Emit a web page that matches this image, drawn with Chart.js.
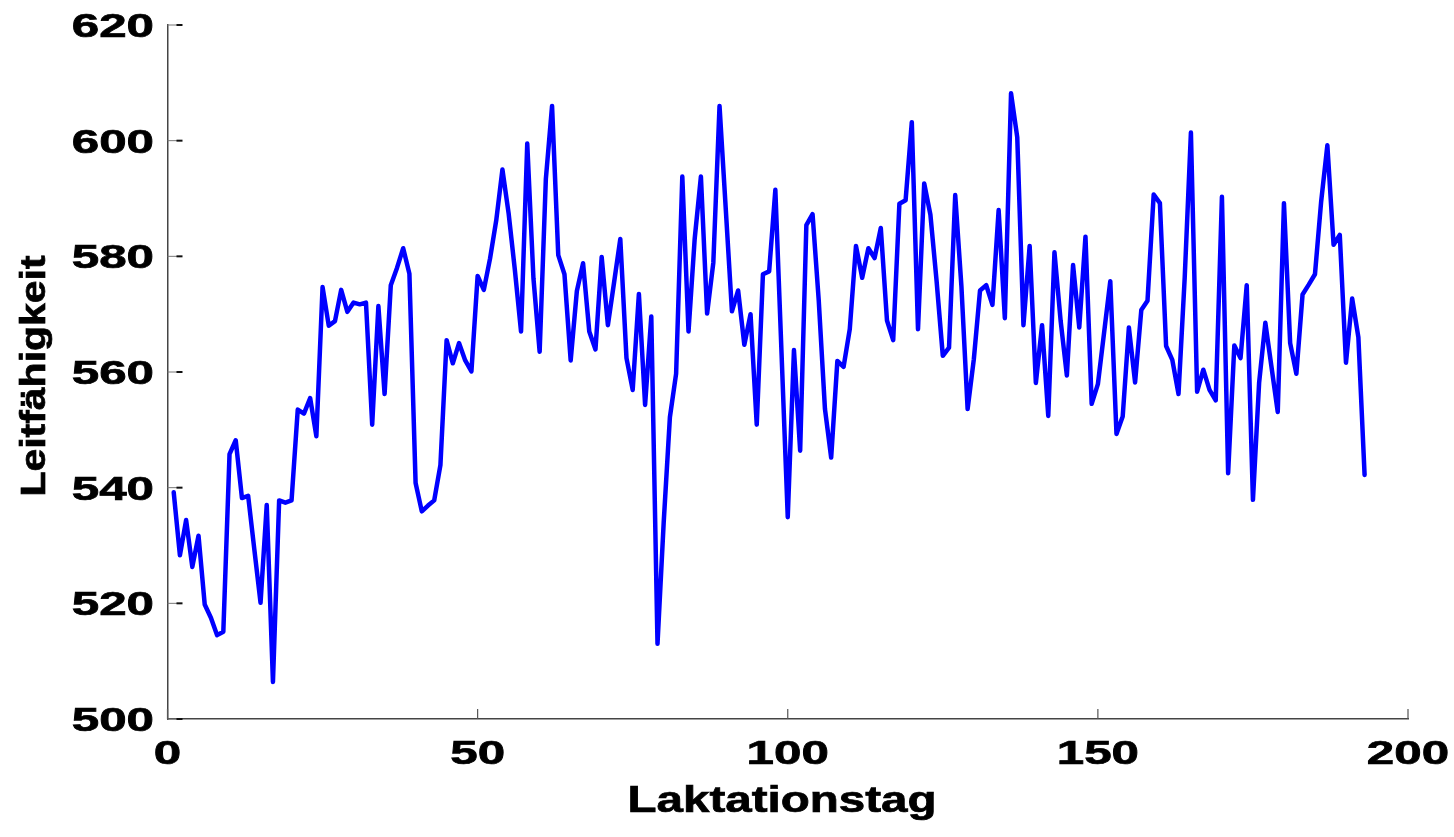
<!DOCTYPE html>
<html lang="de">
<head>
  <meta charset="UTF-8">
  <title>Leitfähigkeit</title>
  <script src="https://cdn.jsdelivr.net/npm/chart.js"></script>
  <style>
    body { margin: 0; background: #fff; }
  </style>
</head>
<body>
  <canvas id="chart" width="1454" height="837"></canvas>

  <script>
    const xTitle = 'Laktationstag';
    const yTitle = 'Leitfähigkeit';
    const xTicks = [0, 50, 100, 150, 200];
    const yTicks = [500, 520, 540, 560, 580, 600, 620];

    // Laktationstag 1..193
    const days = Array.from({ length: 193 }, (_, i) => i + 1);

    const conductivity = [
      539.2, 528.3, 534.4, 526.3, 531.7, 519.8, 517.5, 514.5, 515.1, 545.8,
      548.2, 538.2, 538.6, 529.3, 520.1, 537.0, 506.4, 537.8, 537.4, 537.8,
      553.5, 552.8, 555.5, 548.9, 574.7, 568.0, 568.8, 574.2, 570.4, 572.0,
      571.7, 572.0, 550.9, 571.4, 556.2, 575.0, 578.0, 581.4, 577.0, 540.8,
      535.9, 536.9, 537.8, 543.9, 565.5, 561.5, 565.0, 562.0, 560.1, 576.6,
      574.2, 579.6, 586.2, 595.0, 587.4, 577.7, 567.0, 599.5, 576.2, 563.5,
      593.4, 606.0, 580.2, 576.9, 562.0, 574.0, 578.8, 567.0, 563.9, 579.9,
      568.1, 575.5, 583.0, 562.4, 556.9, 573.5, 554.3, 569.6, 513.0, 534.0,
      552.2, 559.7, 593.8, 567.0, 583.1, 593.8, 570.1, 578.9, 606.0, 588.3,
      570.5, 574.1, 564.7, 570.0, 550.9, 576.9, 577.4, 591.5, 563.2, 534.9,
      563.8, 546.4, 585.4, 587.3, 572.3, 553.6, 545.2, 561.9, 560.9, 567.4,
      581.8, 576.3, 581.4, 579.7, 584.9, 568.9, 565.5, 589.1, 589.7, 603.2,
      567.4, 592.6, 587.2, 575.7, 562.8, 564.2, 590.6, 574.8, 553.6, 562.2,
      574.1, 575.0, 571.6, 588.0, 569.3, 608.2, 600.6, 568.1, 581.8, 558.1,
      568.1, 552.4, 580.7, 568.8, 559.4, 578.5, 567.7, 583.4, 554.5, 557.9,
      566.8, 575.7, 549.3, 552.3, 567.7, 558.2, 570.7, 572.3, 590.7, 589.2,
      564.5, 562.1, 556.2, 576.3, 601.4, 556.6, 560.4, 556.9, 555.1, 590.3,
      542.5, 564.6, 562.4, 575.0, 537.9, 558.2, 568.5, 560.8, 553.1, 589.2,
      565.0, 559.7, 573.4, 575.1, 576.9, 589.5, 599.2, 582.0, 583.7, 561.6,
      572.7, 566.0, 542.2
    ];

    const FONT = '"Liberation Sans", Arial, sans-serif';

    // matlab-like text is stretched wide, so draw it by hand
    function wideText(ctx, text, x, y, sx, align, angle) {
      ctx.save();
      ctx.translate(x, y);
      if (angle) ctx.rotate(angle);
      ctx.scale(sx, 1);
      ctx.textAlign = align;
      ctx.textBaseline = 'alphabetic';
      ctx.fillText(text, 0, 0);
      ctx.strokeText(text, 0, 0);
      ctx.restore();
    }

    const matlabAxes = {
      id: 'matlabAxes',
      afterDraw(chart) {
        const { ctx, chartArea: area, scales: { x, y } } = chart;
        ctx.save();

        // inward ticks
        yTicks.forEach(v => {
          const py = y.getPixelForValue(v);
          ctx.strokeStyle = '#777';
          ctx.lineWidth = 1;
          ctx.beginPath(); ctx.moveTo(area.left, py); ctx.lineTo(area.left + 10, py); ctx.stroke();
          ctx.strokeStyle = '#111';
          ctx.lineWidth = 2;
          ctx.beginPath(); ctx.moveTo(area.left + 9, py); ctx.lineTo(area.left + 15, py); ctx.stroke();
        });
        xTicks.forEach(v => {
          const px = x.getPixelForValue(v);
          ctx.strokeStyle = '#555';
          ctx.lineWidth = 1.2;
          ctx.beginPath(); ctx.moveTo(px, area.bottom); ctx.lineTo(px, area.bottom - 10); ctx.stroke();
        });

        ctx.fillStyle = '#000';
        ctx.strokeStyle = '#000';
        ctx.lineWidth = 0.7;
        ctx.font = 'bold 34px ' + FONT;
        yTicks.forEach(v => {
          wideText(ctx, String(v), 154, y.getPixelForValue(v) + 12, 1.45, 'right');
        });
        xTicks.forEach(v => {
          wideText(ctx, String(v), x.getPixelForValue(v), 764, 1.45, 'center');
        });

        ctx.font = 'bold 36px ' + FONT;
        wideText(ctx, xTitle, 782, 812, 1.32, 'center');
        ctx.font = 'bold 35px ' + FONT;
        wideText(ctx, yTitle, 45, 376, 1.17, 'center', -Math.PI / 2);

        ctx.restore();
      }
    };

    const ctx = document.getElementById('chart').getContext('2d');
    const chart = new Chart(ctx, {
      type: 'line',
      data: {
        labels: days,
        datasets: [{
          label: yTitle,
          data: conductivity,
          borderColor: '#0000ff',
          borderWidth: 4.5,
          borderJoinStyle: 'round',
          borderCapStyle: 'round',
          pointRadius: 0,
          tension: 0,
          fill: false
        }]
      },
      options: {
        responsive: false,
        animation: false,
        layout: { padding: { top: 25, right: 46, left: 0, bottom: 0 } },
        plugins: {
          legend: { display: false },
          tooltip: { enabled: false }
        },
        scales: {
          x: {
            type: 'linear',
            min: 0,
            max: 200,
            afterBuildTicks: s => { s.ticks = xTicks.map(v => ({ value: v })); },
            afterFit: s => { s.height = 118; },
            ticks: { display: false },
            grid: { display: false },
            border: { display: true, color: '#444', width: 1.5 }
          },
          y: {
            min: 500,
            max: 620,
            afterBuildTicks: s => { s.ticks = yTicks.map(v => ({ value: v })); },
            afterFit: s => { s.width = 167.5; },
            ticks: { display: false },
            grid: { display: false },
            border: { display: true, color: '#444', width: 1.5 }
          }
        }
      },
      plugins: [matlabAxes]
    });
  </script>
</body>
</html>
